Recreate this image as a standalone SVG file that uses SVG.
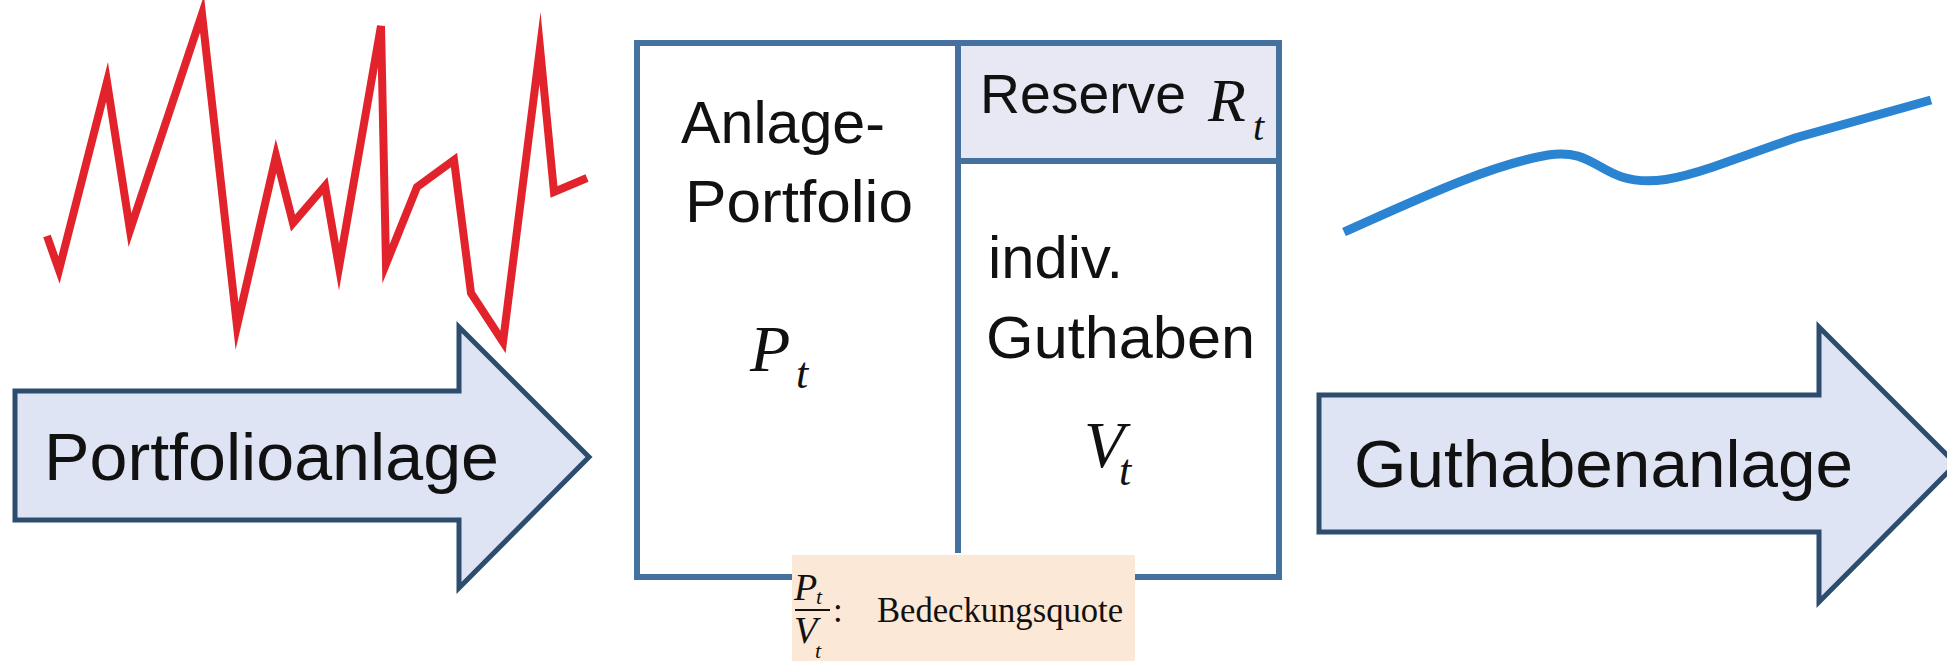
<svg xmlns="http://www.w3.org/2000/svg" width="1947" height="661" viewBox="0 0 1947 661">
<style>
.arrow{fill:#DFE4F5;stroke:#2C4D6E;stroke-width:5;stroke-linejoin:miter}
.lbl{font-family:"Liberation Sans",Arial,sans-serif;fill:#111}
.math{font-family:"Liberation Serif","Times New Roman",serif;font-style:italic;fill:#111}
.serif{font-family:"Liberation Serif","Times New Roman",serif;fill:#111}
.box{fill:none;stroke:#45719F;stroke-width:6}
</style>
<rect width="1947" height="661" fill="#ffffff"/>
<g id="red-line">
<polyline fill="none" stroke="#E2232B" stroke-width="8" stroke-linejoin="miter" stroke-miterlimit="10" points="47,236 59,270 107,82 130,230 202,14 237,326 276,156 293,223 325,186 339,267 381,26 386,264 417,187 454,160 471,293 503,342 540,48 554,192 587,178"/>
</g>
<g id="blue-line">
<path fill="none" stroke="#2A84D2" stroke-width="9" stroke-linecap="butt" d="M1344,232 C1420,198 1490,165 1548,155 C1585,149 1595,168 1622,177 C1650,186 1680,178 1713,167 L1795,138 L1931,100"/>
</g>
<g id="portfolioanlage">
<path class="arrow" d="M15,391 L459,391 L459,327 L589,457 L459,588 L459,520 L15,520 Z"/>
<text class="lbl" x="44" y="480" font-size="66" textLength="455" lengthAdjust="spacingAndGlyphs">Portfolioanlage</text>
</g>
<g id="guthabenanlage">
<path class="arrow" d="M1319,395 L1819,395 L1819,327 L1956,464 L1819,602 L1819,532 L1319,532 Z"/>
<text class="lbl" x="1354" y="487" font-size="66" textLength="499" lengthAdjust="spacingAndGlyphs">Guthabenanlage</text>
</g>
<g id="balance">
<rect x="958" y="43" width="321" height="118" fill="#E7E8F3"/>
<rect class="box" x="637" y="43" width="642" height="534"/>
<line class="box" x1="958" y1="43" x2="958" y2="553"/>
<line class="box" x1="958" y1="161" x2="1279" y2="161"/>
<text class="lbl" x="681" y="143" font-size="60" textLength="204" lengthAdjust="spacingAndGlyphs">Anlage-</text>
<text class="lbl" x="685" y="222" font-size="60" textLength="228" lengthAdjust="spacingAndGlyphs">Portfolio</text>
<text class="math" x="750" y="371" font-size="66">P</text>
<text class="math" x="796" y="388" font-size="44">t</text>
<text class="lbl" x="980" y="113" font-size="56" textLength="206" lengthAdjust="spacingAndGlyphs">Reserve</text>
<text class="math" x="1208" y="121" font-size="62">R</text>
<text class="math" x="1253" y="140" font-size="40">t</text>
<text class="lbl" x="988" y="278" font-size="60" textLength="135" lengthAdjust="spacingAndGlyphs">indiv.</text>
<text class="lbl" x="986" y="358" font-size="60" textLength="269" lengthAdjust="spacingAndGlyphs">Guthaben</text>
<text class="math" x="1084" y="467" font-size="66">V</text>
<text class="math" x="1119" y="485" font-size="44">t</text>
</g>
<g id="bedeckungsquote">
<rect x="792" y="555" width="343" height="106" fill="#FCE8D6"/>
<text class="math" x="794" y="600" font-size="38">P</text>
<text class="math" x="816" y="604" font-size="22">t</text>
<line x1="795" y1="610" x2="830" y2="610" stroke="#111" stroke-width="2"/>
<text class="math" x="794" y="643" font-size="38">V</text>
<text class="math" x="815" y="658" font-size="22">t</text>
<text class="serif" x="833" y="622" font-size="35">:</text>
<text class="serif" x="877" y="622" font-size="35" textLength="246" lengthAdjust="spacingAndGlyphs">Bedeckungsquote</text>
</g>
</svg>
